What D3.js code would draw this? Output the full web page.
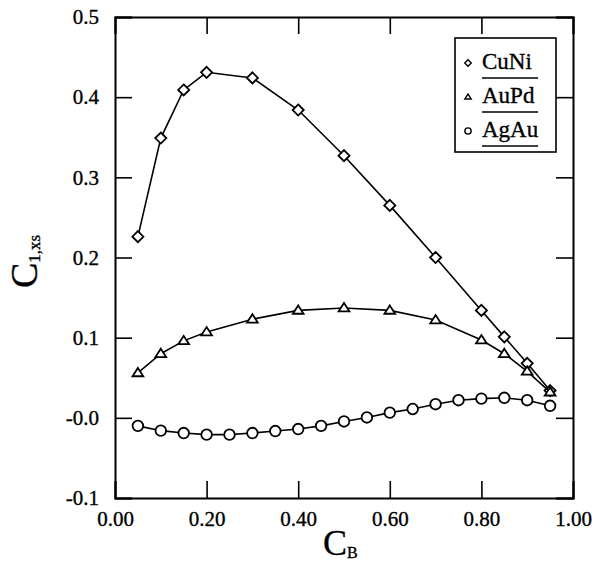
<!DOCTYPE html>
<html>
<head>
<meta charset="utf-8">
<script src="https://cdn.jsdelivr.net/npm/d3@7"></script>
<style>
 body { margin: 0; background: #fff; }
 text { font-family: "Liberation Serif", "DejaVu Serif", serif; fill: #000; stroke: #000; stroke-width: 0.35px; }
</style>
</head>
<body>
<script>

// values
var cb = [0.05, 0.10, 0.15, 0.20, 0.25, 0.30, 0.35, 0.40, 0.45, 0.50, 0.55, 0.60, 0.65, 0.70, 0.75, 0.80, 0.85, 0.90, 0.95]
var cbSparse = [0.05, 0.10, 0.15, 0.20, 0.30, 0.40, 0.50, 0.60, 0.70, 0.80, 0.85, 0.90, 0.95]
var cuni = [0.226, 0.349, 0.409, 0.431, 0.424, 0.384, 0.327, 0.265, 0.200, 0.134, 0.101, 0.068, 0.034]
var aupd = [0.056, 0.080, 0.096, 0.107, 0.123, 0.134, 0.137, 0.134, 0.122, 0.097, 0.080, 0.058, 0.032]
var agau = [-0.010, -0.016, -0.019, -0.021, -0.021, -0.019, -0.0165, -0.014, -0.010, -0.0045, 0.0005, 0.0065, 0.011, 0.017, 0.022, 0.024, 0.025, 0.022, 0.015]
var seriesNames = ["CuNi", "AuPd", "AgAu"]
var xTicks = [0, 0.2, 0.4, 0.6, 0.8, 1.0]
var xTickLabels = ["0.00", "0.20", "0.40", "0.60", "0.80", "1.00"]
var yTicks = [-0.1, 0, 0.1, 0.2, 0.3, 0.4, 0.5]
var yTickLabels = ["-0.1", "-0.0", "0.1", "0.2", "0.3", "0.4", "0.5"]

window.onload = draw

// open marker shapes
var diamond = { draw: function(ctx, size) {
  var r = Math.sqrt(size) * 0.62
  ctx.moveTo(0, -r); ctx.lineTo(r, 0); ctx.lineTo(0, r); ctx.lineTo(-r, 0); ctx.closePath()
}}
var triangle = { draw: function(ctx, size) {
  var w = Math.sqrt(size) * 0.62, h = w * 1.55
  ctx.moveTo(0, -h * 0.6); ctx.lineTo(w, h * 0.4); ctx.lineTo(-w, h * 0.4); ctx.closePath()
}}

function draw()
{
  var W = 592, H = 579
  var m = {left: 115, top: 17, right: 19, bottom: 81}
  var iw = W - m.left - m.right, ih = H - m.top - m.bottom

  var svg = d3.select("body").append("svg").attr("width", W).attr("height", H)
  var g = svg.append("g").attr("transform", "translate(" + m.left + "," + m.top + ")")

  var x = d3.scaleLinear().domain([0, 1]).range([0, iw])
  var y = d3.scaleLinear().domain([-0.1, 0.5]).range([ih, 0])

  var xMinor = d3.range(0, 1.0001, 0.04)
  var yMinor = d3.range(-0.1, 0.5001, 0.02)

  // bottom axis with labels
  var bottom = g.append("g").attr("transform", "translate(0," + ih + ")")
  bottom.call(d3.axisBottom(x).tickValues(xMinor).tickSize(-5).tickFormat(""))
  bottom.call(d3.axisBottom(x).tickValues(xTicks).tickSize(-17).tickPadding(13)
                 .tickFormat(function(d, i) { return xTickLabels[i] }))
  // top
  var top = g.append("g")
  top.call(d3.axisTop(x).tickValues(xMinor).tickSize(-5).tickFormat(""))
  top.call(d3.axisTop(x).tickValues(xTicks).tickSize(-17).tickFormat(""))
  // left with labels
  var left = g.append("g")
  left.call(d3.axisLeft(y).tickValues(yMinor).tickSize(-5).tickFormat(""))
  left.call(d3.axisLeft(y).tickValues(yTicks).tickSize(-17).tickPadding(16)
                 .tickFormat(function(d, i) { return yTickLabels[i] }))
  // right
  var right = g.append("g").attr("transform", "translate(" + iw + ",0)")
  right.call(d3.axisRight(y).tickValues(yMinor).tickSize(-5).tickFormat(""))
  right.call(d3.axisRight(y).tickValues(yTicks).tickSize(-17).tickFormat(""))

  g.selectAll(".domain").attr("stroke", "#000").attr("stroke-width", 2)
  g.selectAll(".tick line").attr("stroke", "#000").attr("stroke-width", 1.6)
  g.selectAll(".tick text").style("font-size", "21px").attr("fill", "#000")
  g.selectAll(".tick text").style("font-family", "'Liberation Serif', serif")

  // series
  var series = [
    {name: seriesNames[0], xs: cbSparse, ys: cuni, type: diamond, size: 80},
    {name: seriesNames[1], xs: cbSparse, ys: aupd, type: triangle, size: 75},
    {name: seriesNames[2], xs: cb, ys: agau, type: d3.symbolCircle, size: 88}
  ]
  var line = d3.line().x(function(d) { return x(d[0]) }).y(function(d) { return y(d[1]) })

  series.forEach(function(s)
  {
    var pts = s.xs.map(function(v, i) { return [v, s.ys[i]] })
    g.append("path").datum(pts).attr("d", line)
     .attr("fill", "none").attr("stroke", "#000").attr("stroke-width", 1.6)
    g.selectAll(null).data(pts).enter().append("path")
     .attr("transform", function(d) { return "translate(" + x(d[0]) + "," + y(d[1]) + ")" })
     .attr("d", d3.symbol().type(s.type).size(s.size))
     .attr("fill", "#fff").attr("stroke", "#000").attr("stroke-width", 1.8)
  })

  // legend
  var lg = svg.append("g").attr("transform", "translate(455,38)")
  lg.append("rect").attr("width", 101).attr("height", 114)
    .attr("fill", "#fff").attr("stroke", "#000").attr("stroke-width", 1.6)
  series.forEach(function(s, i)
  {
    var cy = 25 + i * 34
    lg.append("path").attr("transform", "translate(13," + cy + ")")
      .attr("d", d3.symbol().type(s.type).size(s.size * 0.35))
      .attr("fill", "#fff").attr("stroke", "#000").attr("stroke-width", 1.4)
    lg.append("text").attr("x", 27).attr("y", cy + 6).style("font-size", "23px").text(s.name)
    lg.append("line").attr("x1", 27).attr("x2", 83).attr("y1", cy + 15).attr("y2", cy + 15)
      .attr("stroke", "#000").attr("stroke-width", 1.5)
  })

  // axis titles
  var xt = svg.append("text").attr("x", 323).attr("y", 555)
  xt.append("tspan").style("font-size", "36px").text("C")
  xt.append("tspan").style("font-size", "16px").attr("dy", 3).text("B")

  var yt = svg.append("text").attr("transform", "translate(37,288) rotate(-90)")
  yt.append("tspan").style("font-size", "38px").text("C")
  yt.append("tspan").style("font-size", "17px").attr("dy", 3).text("1,xs")
}
</script>
</body>
</html>
